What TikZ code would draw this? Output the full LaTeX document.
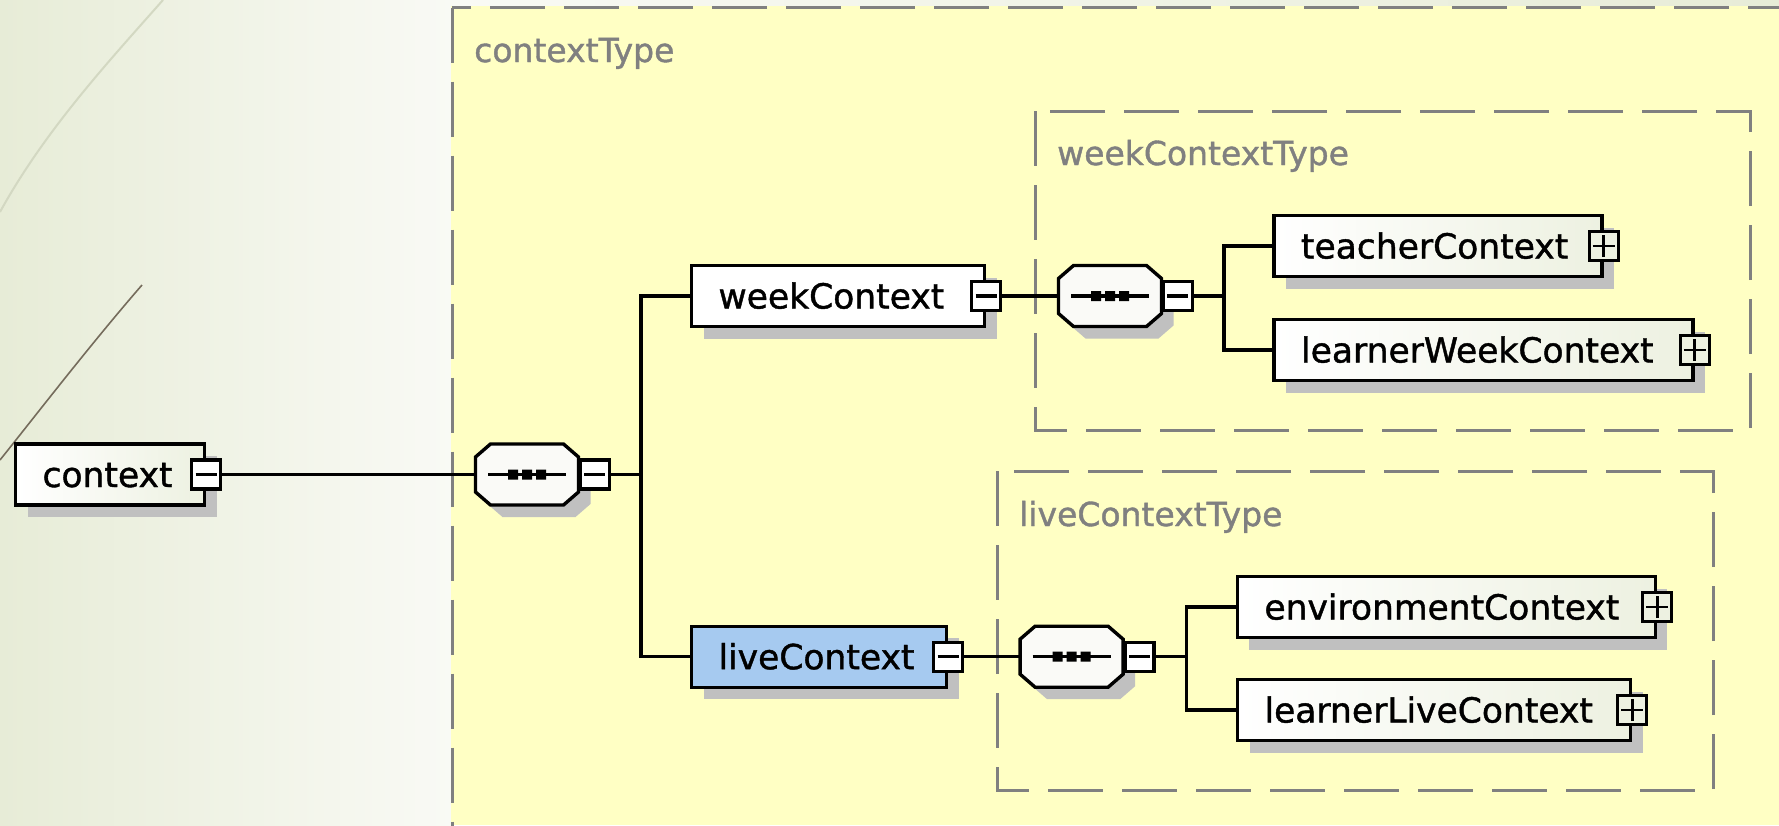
\documentclass[tikz,border=0pt]{standalone}
\usepackage{fontspec}
\setmainfont{DejaVu Sans}
\newfontface\elemfont{DejaVu Sans}[FakeBold=1.2]
\usetikzlibrary{shadows}
\definecolor{bgleft}{HTML}{E7ECD7}
\definecolor{bgmid}{HTML}{F9FAF5}
\definecolor{typeyellow}{HTML}{FFFFC4}
\definecolor{framegray}{HTML}{808080}
\definecolor{shadowgray}{HTML}{C0C0C0}
\definecolor{boxgreen}{HTML}{EDF1E1}
\definecolor{selblue}{HTML}{A6CAF0}
\definecolor{seqwhite}{HTML}{FAFAF7}
\definecolor{decofaint}{HTML}{D3D8C2}
\definecolor{decodark}{HTML}{756C5C}
\newcommand{\seqoct}[1]{%
  \begin{scope}[shift={(#1.center)}]
    \fill[shadowgray, shift={(12,12)}] (-36.5,-30.5) -- (36.5,-30.5) -- (51.5,-17.5) -- (51.5,17.5)
      -- (36.5,30.5) -- (-36.5,30.5) -- (-51.5,17.5) -- (-51.5,-17.5) -- cycle;
    \draw[line width=3.4pt, fill=seqwhite] (-36.5,-30.5) -- (36.5,-30.5) -- (51.5,-17.5) -- (51.5,17.5)
      -- (36.5,30.5) -- (-36.5,30.5) -- (-51.5,17.5) -- (-51.5,-17.5) -- cycle;
    \draw[line width=3.4pt] (-39,0) -- (39,0);
    \fill (-19,-5) rectangle (-9,5) (-5,-5) rectangle (5,5) (9,-5) rectangle (19,5);
  \end{scope}}

\begin{document}
\begin{tikzpicture}[x=1pt, y=-1pt,
  elem/.style={draw, line width=3.4pt, minimum height=61pt,
               inner xsep=27pt, inner ysep=0pt, text width=#1, align=left,
               text height=25pt, text depth=0pt,
               font=\elemfont\fontsize{34.5pt}{40pt}\selectfont,
               general shadow={fill=shadowgray, shadow xshift=12pt, shadow yshift=-12pt}},
  plainelem/.style={elem=#1, left color=white, right color=boxgreen},
  whiteelem/.style={elem=#1, fill=white},
  selelem/.style={elem=#1, fill=selblue},
  seqbox/.style={inner sep=0pt, minimum width=103pt, minimum height=61pt},
  toggle/.style={draw, line width=3.4pt, minimum size=29pt, inner sep=0pt, fill=white},
  tminus/.style={toggle,
                 path picture={\draw[line width=3.4pt] ([xshift=-10.5pt]path picture bounding box.center)
                   -- ([xshift=10.5pt]path picture bounding box.center);}},
  tplus/.style={toggle, fill=boxgreen,
                path picture={\draw[line width=2.8pt] ([xshift=-11pt]path picture bounding box.center)
                  -- ([xshift=11pt]path picture bounding box.center)
                  ([yshift=-11pt]path picture bounding box.center)
                  -- ([yshift=11pt]path picture bounding box.center);}},
  conn/.style={line width=3.4pt},
  typebox/.style={draw=framegray, line width=3pt, dash pattern=on 55pt off 19pt},
  typelabel/.style={font=\elemfont\fontsize{33pt}{40pt}\selectfont, text=framegray,
                    anchor=base west, inner sep=0pt}
]
\useasboundingbox (0,0) rectangle (1779,825);
\shade[left color=bgleft, right color=bgmid] (0,0) rectangle (452,825);
\shade[left color=bgmid, right color=bgleft] (452,0) rectangle (1779,6);
\fill[typeyellow] (451,5.7) rectangle (1779,825);
\draw[decofaint, line width=2pt] (163,0) .. controls (110,60) and (45,130) .. (0,212);
\draw[decodark, line width=1.6pt] (142,285) .. controls (90,345) and (40,410) .. (0,460);

\draw[typebox] (452,7.5) rectangle (1900,900);
\draw[typebox] (1035,111) rectangle (1750,430);
\draw[typebox] (997,471) rectangle (1713,790);
\node[typelabel] (ctxType) at (474,62) {contextType};
\node[typelabel] (weekType) at (1057,165) {weekContextType};
\node[typelabel] (liveType) at (1019,526) {liveContextType};

\node[plainelem=135pt] (ctx) at (110,474.5) {context};
\node[tminus] (ctxT) at (ctx.east) {};
\node[seqbox] (seqA) at (527,474.5) {};
\seqoct{seqA}
\node[tminus, anchor=west] (seqAT) at (seqA.east) {};

\node[whiteelem=239pt] (week) at (838,296) {weekContext};
\node[tminus] (weekT) at (week.east) {};
\node[seqbox] (seqB) at (1110,296) {};
\seqoct{seqB}
\node[tminus, anchor=west] (seqBT) at (seqB.east) {};
\node[plainelem=274pt] (teacher) at (1438,246) {teacherContext};
\node[tplus] (teacherT) at (teacher.east) {};
\node[plainelem=365pt] (lweek) at (1483.6,350) {learnerWeekContext};
\node[tplus] (lweekT) at (lweek.east) {};

\node[selelem=201pt] (live) at (819,656.7) {liveContext};
\node[tminus] (liveT) at (live.east) {};
\node[seqbox] (seqC) at (1071.6,656.7) {};
\seqoct{seqC}
\node[tminus, anchor=west] (seqCT) at (seqC.east) {};
\node[plainelem=364pt] (env) at (1446.4,607) {environmentContext};
\node[tplus] (envT) at (env.east) {};
\node[plainelem=339pt] (llive) at (1434,710) {learnerLiveContext};
\node[tplus] (lliveT) at (llive.east) {};

\draw[conn] (ctxT.east) -- (seqA.west);
\draw[conn] (seqAT.east) -- ++(30,0) |- (week.west);
\draw[conn] (seqAT.east) -- ++(30,0) |- (live.west);
\draw[conn] (weekT.east) -- (seqB.west);
\draw[conn] (seqBT.east) -- ++(30,0) |- (teacher.west);
\draw[conn] (seqBT.east) -- ++(30,0) |- (lweek.west);
\draw[conn] (liveT.east) -- (seqC.west);
\draw[conn] (seqCT.east) -- ++(31,0) |- (env.west);
\draw[conn] (seqCT.east) -- ++(31,0) |- (llive.west);
\end{tikzpicture}
\end{document}
